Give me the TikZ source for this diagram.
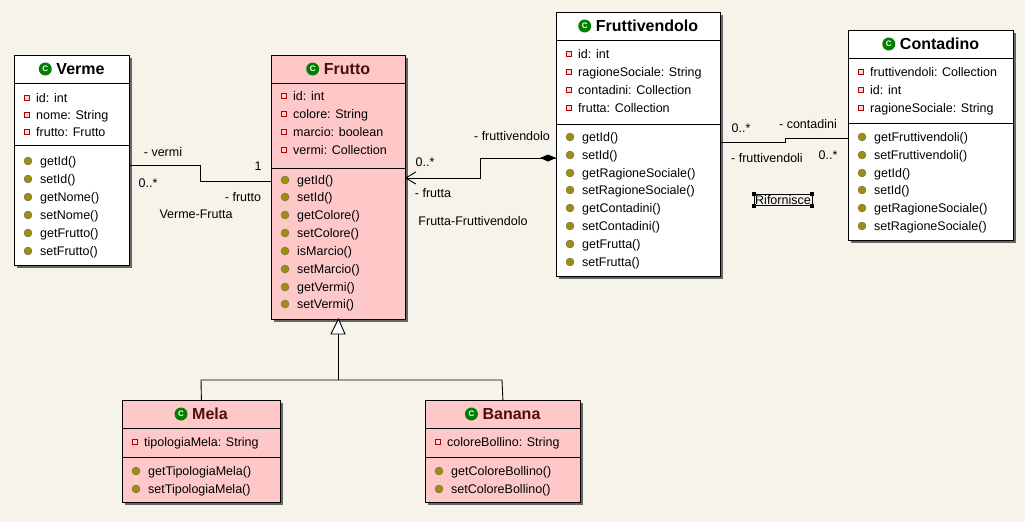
\documentclass[tikz,border=0pt]{standalone}
\usepackage{fontspec}
\setmainfont{Liberation Sans}
\begin{document}
\begin{tikzpicture}[x=1pt,y=-1pt,
  lbl/.style={font=\fontsize{12.5}{13}\selectfont,inner sep=0pt},
  ttl/.style={font=\bfseries\fontsize{16}{17}\selectfont,inner sep=0pt},
  cls/.style={draw=black,line width=0.8pt,anchor=north west,inner sep=0pt},
  ln/.style={line width=0.9pt},
  att/.style={draw=red!70!black,fill=pink!60,line width=0.6pt},
  met/.style={fill=olive!70!brown,draw=olive!60!black,line width=0.3pt}]
\definecolor{bg}{HTML}{F5F3EA}
\definecolor{pk}{HTML}{FFC8C8}
\definecolor{tt}{HTML}{4A1010}
\fill[bg] (0,0) rectangle (1025,522);
\useasboundingbox (0,0) rectangle (1025,522);
\newcommand\umlbox[9]{%
  \fill[black!60] (#2+3,#3+3) rectangle (#2+#4+3,#3+#5+3);
  \node[cls,fill=#6,minimum width=#4pt,minimum height=#5pt] (#1) at (#2,#3) {};
  \draw[line width=0.7pt] (#2,#8) -- (#2+#4,#8) (#2,#9) -- (#2+#4,#9);
  \node[ttl,anchor=center] (#1t) at (#2+#4/2+9,{(#3+#8)/2}) {#7};
  \fill[green!50!black] ([xshift=-11pt]#1t.west) circle (6.5pt);
  \node[font=\bfseries\fontsize{8}{8}\selectfont,text=white,inner sep=0pt] at ([xshift=-11pt]#1t.west) {C};
}
\newcommand\attr[3]{\draw[att] (#1+10,#2-2.5) rectangle (#1+15,#2+2.5); \node[lbl,anchor=base west] at (#1+22,#2+4.5) {#3};}
\newcommand\meth[3]{\fill[met] (#1+14,#2) circle (4pt); \node[lbl,anchor=base west] at (#1+26,#2+4.5) {#3};}

\umlbox{verme}{14}{55}{115}{210}{white}{Verme}{83}{145}
\foreach \y/\t in {98/id: int,115/nome: String,132/frutto: Frutto} {\attr{14}{\y}{\t}}
\foreach \y/\t in {161/getId(),179/setId(),197/getNome(),215/setNome(),233/getFrutto(),251/setFrutto()} {\meth{14}{\y}{\t}}

\umlbox{frutto}{271}{55}{134}{264}{pk}{\textcolor{tt}{Frutto}}{83}{168}
\foreach \y/\t in {96/id: int,114/colore: String,132/marcio: boolean,150/vermi: Collection} {\attr{271}{\y}{\t}}
\foreach \y/\t in {180/getId(),197/setId(),215/getColore(),233/setColore(),251/isMarcio(),269/setMarcio(),287/getVermi(),304/setVermi()} {\meth{271}{\y}{\t}}

\umlbox{frutt}{556}{12}{164}{264}{white}{Fruttivendolo}{40}{124}
\foreach \y/\t in {54/id: int,72/ragioneSociale: String,90/contadini: Collection,108/frutta: Collection} {\attr{556}{\y}{\t}}
\foreach \y/\t in {137/getId(),155/setId(),173/getRagioneSociale(),190/setRagioneSociale(),208/getContadini(),226/setContadini(),244/getFrutta(),262/setFrutta()} {\meth{556}{\y}{\t}}

\umlbox{cont}{848}{30}{165}{210}{white}{Contadino}{58}{123}
\foreach \y/\t in {72/fruttivendoli: Collection,90/id: int,108/ragioneSociale: String} {\attr{848}{\y}{\t}}
\foreach \y/\t in {137/getFruttivendoli(),155/setFruttivendoli(),173/getId(),190/setId(),208/getRagioneSociale(),226/setRagioneSociale()} {\meth{848}{\y}{\t}}

\umlbox{mela}{122}{400}{158}{102}{pk}{\textcolor{tt}{Mela}}{428}{457}
\attr{122}{442}{tipologiaMela: String}
\meth{122}{471}{getTipologiaMela()}\meth{122}{489}{setTipologiaMela()}

\umlbox{banana}{425}{400}{155}{102}{pk}{\textcolor{tt}{Banana}}{428}{457}
\attr{425}{442}{coloreBollino: String}
\meth{425}{471}{getColoreBollino()}\meth{425}{489}{setColoreBollino()}

% Verme-Frutto
\draw[ln] (verme.north east |- 0,165) -- (200,165) -- (200,181) -- (frutto.north west |- 0,181);
\node[lbl] at (163,152) {- vermi};
\node[lbl] at (148,183) {0..*};
\node[lbl] at (258,166) {1};
\node[lbl] at (243,197) {- frutto};
\node[lbl] at (196,214) {Verme-Frutta};
% Fruttivendolo-Frutto
\draw[ln] (frutt.north west |- 0,158) -- (480,158) -- (480,178) -- (frutto.north east |- 0,178);
\draw[ln] (frutto.north east |- 0,178) ++(10,-6) -- ++(-10,6) -- ++(10,6);
\fill (frutt.north west |- 0,158) -- ++(-8,-3.5) -- ++(-8,3.5) -- ++(8,3.5) -- cycle;
\node[lbl] at (512,136) {- fruttivendolo};
\node[lbl] at (425,162) {0..*};
\node[lbl] at (433,193) {- frutta};
\node[lbl] at (473,221) {Frutta-Fruttivendolo};
% Fruttivendolo-Contadino
\draw[ln] (frutt.north east |- 0,142) -- (785,142) -- (785,138) -- (cont.north west |- 0,138);
\node[lbl] at (741,128) {0..*};
\node[lbl] at (808,124) {- contadini};
\node[lbl] at (767,158) {- fruttivendoli};
\node[lbl] at (828,155) {0..*};
\node[lbl,draw,line width=0.5pt,inner sep=1pt] (rif) at (783,200) {Rifornisce};
\foreach \a in {north west,north east,south west,south east} \fill (rif.\a) +(-1.8,-1.8) rectangle +(1.8,1.8);
% inheritance
\coordinate (tri) at (338,334);
\draw[ln] (mela.north |- 0,400) -- (201,380) -- (502,380) -- (banana.north |- 0,400);
\draw[ln] (338,380) -- (tri);
\draw[ln,fill=white] (frutto.south |- 0,319) -- (331,334) -- (345,334) -- cycle;
\end{tikzpicture}
\end{document}
